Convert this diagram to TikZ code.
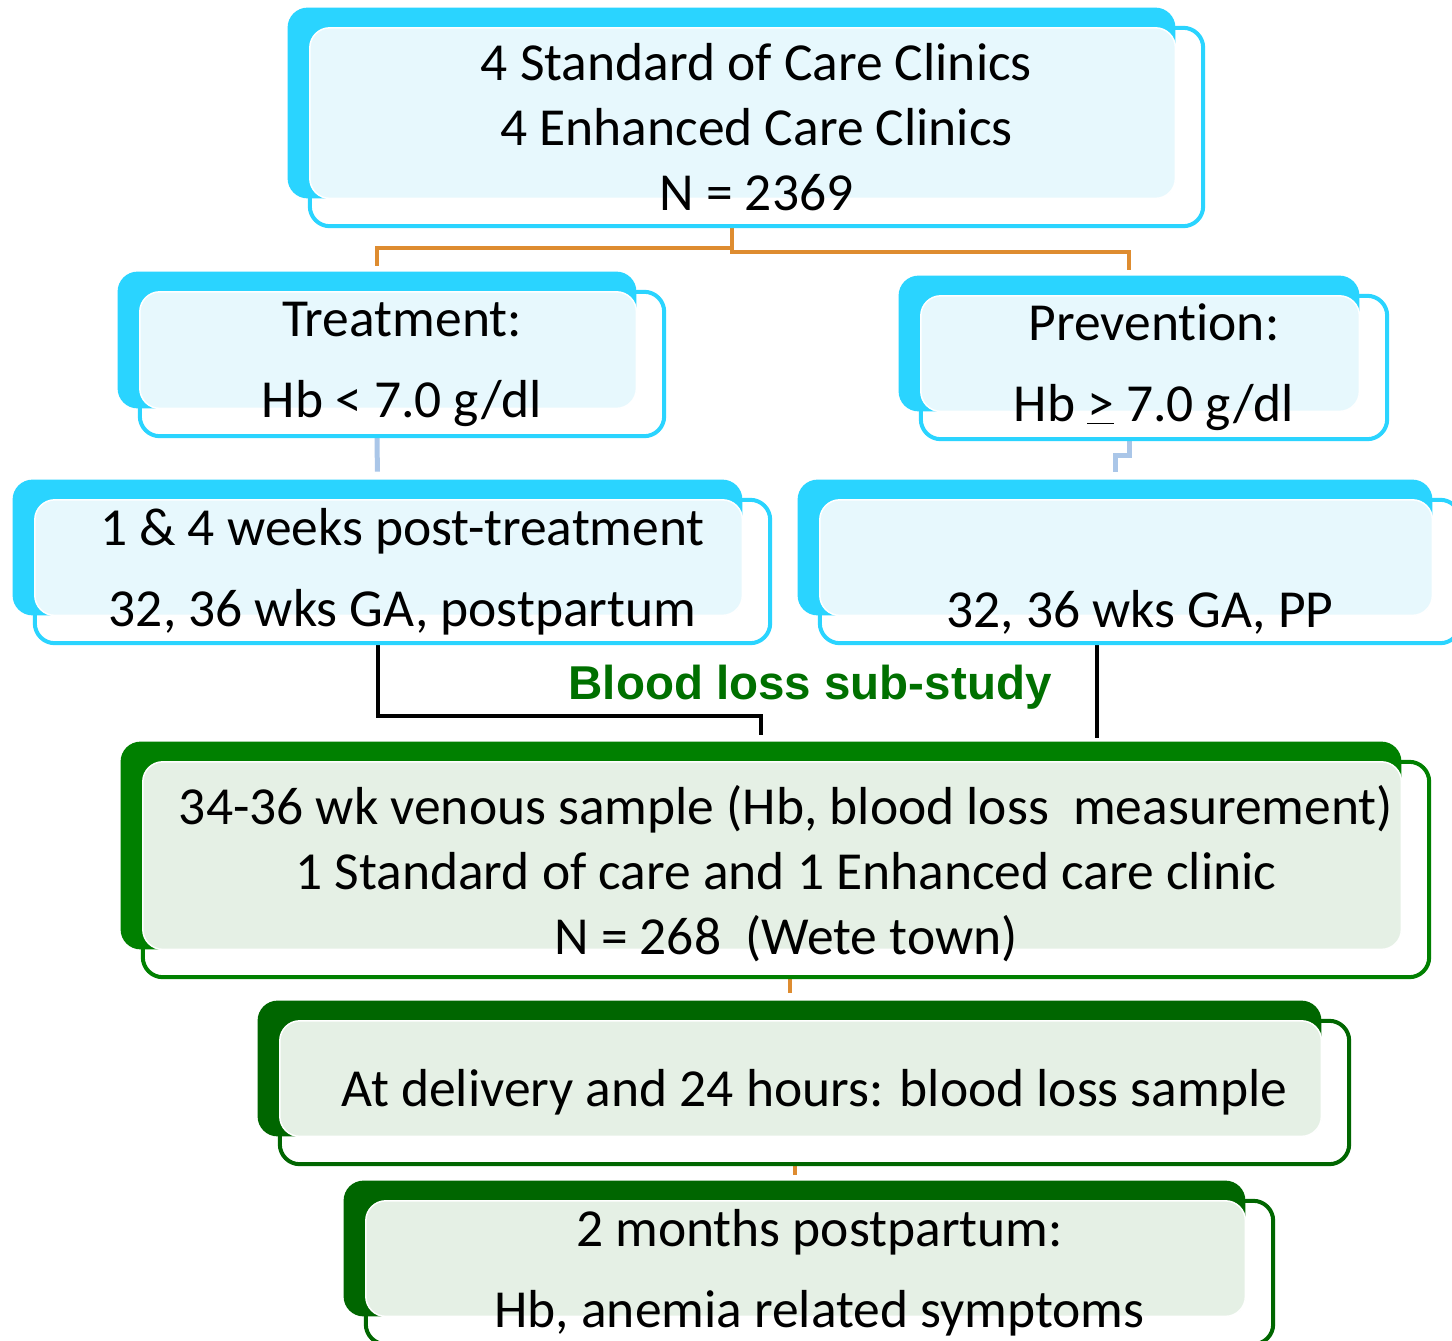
\documentclass[tikz,border=0pt]{standalone}
\usepackage{fontspec}
\setmainfont{Carlito}[Ligatures=NoCommon]
\newfontfamily\labelfont{Liberation Sans}
\usetikzlibrary{fit}
\definecolor{boxcyan}{RGB}{42,212,255}
\definecolor{paleblue}{RGB}{231,248,253}
\definecolor{midgreen}{RGB}{0,128,0}
\definecolor{darkgreen}{RGB}{0,102,0}
\definecolor{palegreen}{RGB}{229,240,229}
\definecolor{linkorange}{RGB}{222,140,48}
\definecolor{linkblue}{RGB}{170,198,232}
\definecolor{labelgreen}{RGB}{0,112,0}
\pgfdeclarelayer{links}
\pgfdeclarelayer{background}
\pgfsetlayers{links,background,main}
\tikzset{
    boxtext/.style={inner sep=0pt, align=center, font=\fontsize{53.5}{65}\selectfont},
    widelines/.style={font=\fontsize{53.5}{81}\selectfont},
    cyan edge/.style={draw=boxcyan, line width=4pt, rounded corners=20pt},
    cyan back/.style={fill=boxcyan, rounded corners=20pt},
    cyan fill/.style={fill=paleblue, draw=white, line width=1.5pt, rounded corners=20pt},
    green edge/.style={draw=midgreen, line width=4pt, rounded corners=20pt},
    green back/.style={fill=midgreen, rounded corners=20pt},
    green fill/.style={fill=palegreen, draw=white, line width=1.5pt, rounded corners=20pt},
    dkgreen edge/.style={draw=darkgreen, line width=4pt, rounded corners=20pt},
    dkgreen back/.style={fill=darkgreen, rounded corners=20pt},
    dkgreen fill/.style={fill=palegreen, draw=white, line width=1.5pt, rounded corners=20pt},
    orange link/.style={draw=linkorange, line width=4pt},
    blue link/.style={draw=linkblue, line width=5pt},
    black link/.style={draw=black, line width=4pt}
}
% front frame, its text, the solid box behind it, and the pale overlap
\newcommand{\stackbox}[5][]{%
    \node[inner sep=0pt, fit={#4}] (#2) {};
    \node[boxtext, #1] (#2text) at (#2.center) {#5};
    \node[inner sep=0pt, fit={([shift={(-22,-20)}]#2.north west) ([shift={(-28,-28)}]#2.south east)}] (#2back) {};
    \begin{pgfonlayer}{background}
        \draw[#3 edge] (#2.north west) rectangle (#2.south east);
        \fill[#3 back] (#2back.north west) rectangle (#2back.south east);
        \filldraw[#3 fill] (#2.north west) rectangle (#2back.south east);
    \end{pgfonlayer}}

\begin{document}
\begin{tikzpicture}[x=1pt,y=-1pt]
\useasboundingbox (0,0) rectangle (1452,1341);
\begin{pgfonlayer}{links}
    \fill[white] (0,0) rectangle (1452,1341);
\end{pgfonlayer}

\stackbox{clinics}{cyan}{(310,28) (1203,226)}{4 Standard of Care Clinics\\4 Enhanced Care Clinics\\N = 2369}
\stackbox[widelines]{treat}{cyan}{(140,292) (664,436)}{Treatment:\\Hb < 7.0 g/dl}
\stackbox[widelines]{prevent}{cyan}{(921,296) (1387,439)}{Prevention:\\Hb \underline{>} 7.0 g/dl}
\stackbox[widelines]{treatvisits}{cyan}{(35,500) (770,643)}{1 \& 4 weeks post-treatment\\32, 36 wks GA, postpartum}
\stackbox[widelines]{preventvisits}{cyan}{(820,500) (1460,643)}{\vphantom{kp}\\32, 36 wks GA, PP}

\node[font=\labelfont\bfseries\fontsize{47.5}{57}\selectfont, text=labelgreen, inner sep=0pt] (substudy) at (810,687) {Blood loss sub-study};

\stackbox[yshift=-4pt]{venous}{green}{(143,762) (1429,977)}{34-36 wk venous sample (Hb, blood loss\ \ measurement)\\1 Standard of care and 1 Enhanced care clinic\\N = 268\ \ (Wete town)}
\stackbox{delivery}{dkgreen}{(280,1021) (1349,1164)}{At delivery and 24 hours: blood loss sample}
\stackbox[widelines]{postpartum}{dkgreen}{(366,1201) (1273,1344)}{2 months postpartum:\\Hb, anemia related symptoms}

\begin{pgfonlayer}{links}
    \draw[orange link, shorten >=6pt] (clinicsback.south |- clinics.south) -- ++(0,22) -| (treatback.north);
    \draw[orange link, shorten >=6pt] (clinicsback.south |- clinics.south) -- ++(0,26) -| (preventback.north);
    \draw[blue link, shorten >=8pt] (treatback.south |- treat.south) -- (treatvisitsback.north);
    \draw[blue link, shorten >=8pt] (preventback.south |- prevent.south) -- ++(0,16) -| (preventvisitsback.north);
    \draw[black link, shorten >=7pt] (treatvisitsback.south |- treatvisits.south) -- ++(0,73) -| (venousback.north);
    \coordinate (dropright) at ([xshift=-18]preventvisitsback.south |- preventvisits.south);
    \draw[black link, shorten >=4pt] (dropright) -- (dropright |- venousback.north);
    \draw[orange link, shorten >=8pt] (venousback.south |- venous.south) -| (deliveryback.north);
    \draw[orange link, shorten >=6pt] (deliveryback.south |- delivery.south) -| (postpartumback.north);
\end{pgfonlayer}
\end{tikzpicture}
\end{document}
